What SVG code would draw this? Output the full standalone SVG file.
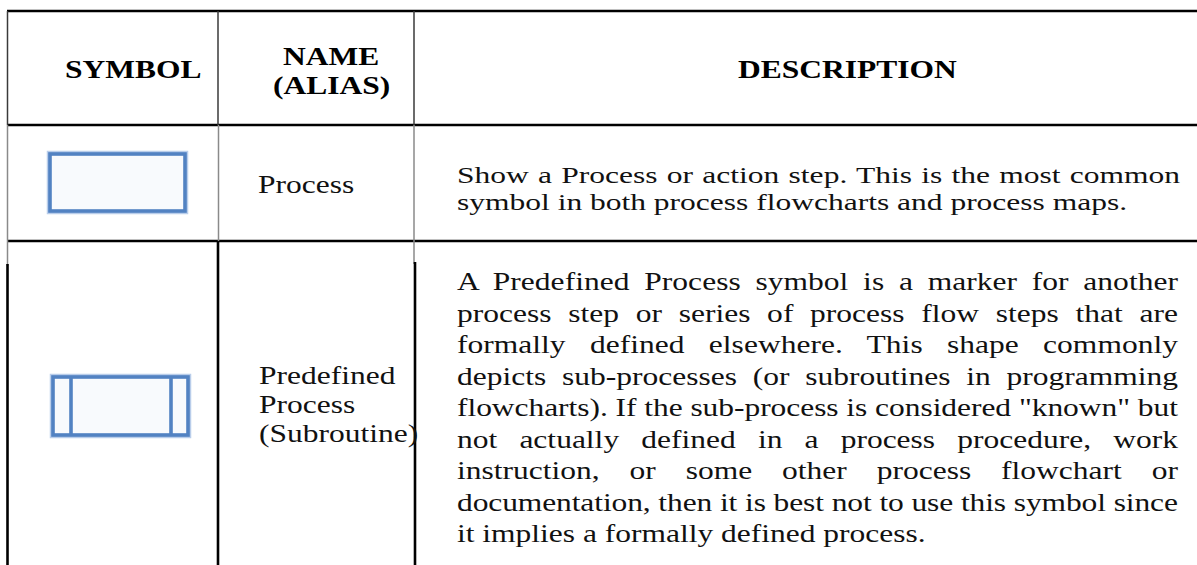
<svg xmlns="http://www.w3.org/2000/svg" width="1197" height="565" viewBox="0 0 1197 565">
  <style>
    .hd { font-family: "Liberation Serif", "Times New Roman", serif; font-weight: bold; font-size: 25px; fill: #000; }
    .tx { font-family: "Liberation Serif", "Times New Roman", serif; font-size: 25px; fill: #111; }
    .tx-sm { font-family: "Liberation Serif", "Times New Roman", serif; font-size: 24px; fill: #111; }
    .rule { stroke: #000; stroke-width: 2.6; fill: none; }
    .thin { stroke: #3a3a3a; stroke-width: 1.5; fill: none; }
    .grey { stroke: #8a8a8a; stroke-width: 1.5; fill: none; }
    .bold { stroke: #000; stroke-width: 2.6; fill: none; }
    .halo { stroke: #b9cdea; stroke-width: 6.5; fill: none; }
    .edge { stroke: #5282c2; stroke-width: 3.6; fill: #f8fafd; }
    .edge-line { stroke: #5282c2; stroke-width: 3.6; fill: none; }
  </style>

  <rect width="1197" height="565" fill="#fff"/>

  <!-- table rules -->
  <g id="table-grid">
    <line class="rule" x1="7" y1="11" x2="1197" y2="11"/>
    <line class="rule" x1="7" y1="125" x2="1197" y2="125"/>
    <line class="rule" x1="7" y1="241" x2="1197" y2="241"/>
    <!-- header row verticals -->
    <line class="thin" x1="7.5" y1="11" x2="7.5" y2="125"/>
    <line class="thin" x1="218" y1="11" x2="218" y2="125"/>
    <line class="thin" x1="414" y1="11" x2="414" y2="125"/>
    <!-- first body row verticals -->
    <line class="grey" x1="7.5" y1="125" x2="7.5" y2="241"/>
    <line class="grey" x1="218.5" y1="125" x2="218.5" y2="241"/>
    <line class="grey" x1="414" y1="125" x2="414" y2="241"/>
    <!-- second body row verticals -->
    <line class="grey" x1="7.5" y1="241" x2="7.5" y2="266"/>
    <line class="bold" x1="7.5" y1="264" x2="7.5" y2="565"/>
    <line class="bold" x1="218" y1="241" x2="218" y2="565"/>
    <line class="grey" x1="414" y1="241" x2="414" y2="264"/>
    <line class="bold" x1="415" y1="262" x2="415" y2="565"/>
  </g>

  <!-- column headings -->
  <g id="header">
    <text class="hd" transform="translate(65,78) scale(1.26,1)">SYMBOL</text>
    <text class="hd" transform="translate(283,65) scale(1.26,1)">NAME</text>
    <text class="hd" transform="translate(273,94) scale(1.26,1)">(ALIAS)</text>
    <text class="hd" transform="translate(738,78) scale(1.26,1)">DESCRIPTION</text>
  </g>

  <!-- Process row -->
  <g id="process-symbol">
    <rect class="halo" x="50" y="154" width="135" height="57"/>
    <rect class="edge" x="50" y="154" width="135" height="57"/>
  </g>
  <g id="process-name">
    <text class="tx" transform="translate(258,193) scale(1.26,1)">Process</text>
  </g>
  <g id="process-description">
    <text class="tx-sm" transform="translate(457,182.5) scale(1.3125,1)" textLength="550.9" lengthAdjust="spacing" word-spacing="1">Show a Process or action step. This is the most common</text>
    <text class="tx-sm" transform="translate(457,209.5) scale(1.3125,1)">symbol in both process flowcharts and process maps.</text>
  </g>

  <!-- Predefined Process row -->
  <g id="predefined-symbol">
    <rect class="halo" x="53" y="377" width="135" height="58"/>
    <line class="halo" x1="71" y1="377" x2="71" y2="435"/>
    <line class="halo" x1="171" y1="377" x2="171" y2="435"/>
    <rect class="edge" x="53" y="377" width="135" height="58"/>
    <line class="edge-line" x1="71" y1="377" x2="71" y2="435"/>
    <line class="edge-line" x1="171" y1="377" x2="171" y2="435"/>
  </g>
  <g id="predefined-name">
    <text class="tx" transform="translate(259,384) scale(1.26,1)">Predefined</text>
    <text class="tx" transform="translate(259,413) scale(1.26,1)">Process</text>
    <text class="tx" transform="translate(259,442) scale(1.26,1)">(Subroutine)</text>
  </g>
  <g id="predefined-description">
    <text class="tx" transform="translate(457,290) scale(1.26,1)" textLength="572.2" lengthAdjust="spacing" word-spacing="5.4">A Predefined Process symbol is a marker for another</text>
    <text class="tx" transform="translate(457,321.5) scale(1.26,1)" textLength="572.2" lengthAdjust="spacing" word-spacing="7">process step or series of process flow steps that are</text>
    <text class="tx" transform="translate(457,353) scale(1.26,1)" textLength="572.2" lengthAdjust="spacing" word-spacing="13">formally defined elsewhere. This shape commonly</text>
    <text class="tx" transform="translate(457,384.5) scale(1.26,1)" textLength="572.2" lengthAdjust="spacing" word-spacing="6.3">depicts sub-processes (or subroutines in programming</text>
    <text class="tx" transform="translate(457,416) scale(1.26,1)" textLength="572.2" lengthAdjust="spacing">flowcharts). If the sub-process is considered "known" but</text>
    <text class="tx" transform="translate(457,447.5) scale(1.26,1)" textLength="572.2" lengthAdjust="spacing" word-spacing="11.3">not actually defined in a process procedure, work</text>
    <text class="tx" transform="translate(457,479) scale(1.26,1)" textLength="572.2" lengthAdjust="spacing" word-spacing="17.5">instruction, or some other process flowchart or</text>
    <text class="tx" transform="translate(457,510.5) scale(1.26,1)" textLength="572.2" lengthAdjust="spacing">documentation, then it is best not to use this symbol since</text>
    <text class="tx" transform="translate(457,542) scale(1.26,1)">it implies a formally defined process.</text>
  </g>
</svg>
